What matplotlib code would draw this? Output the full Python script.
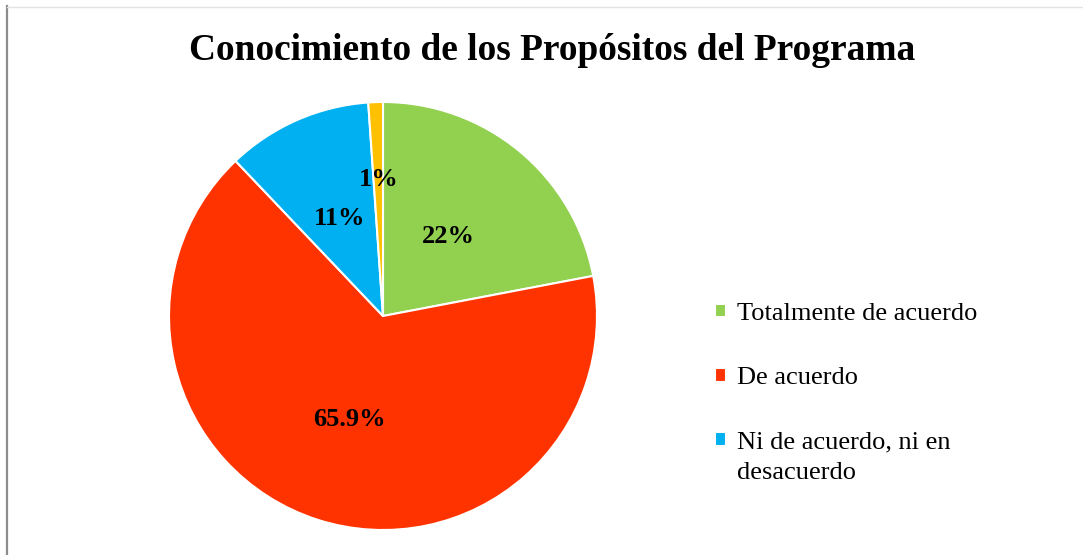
import numpy as np
import matplotlib.pyplot as plt
from matplotlib.lines import Line2D

# data
categories = ['Totalmente de acuerdo', 'De acuerdo', 'Ni de acuerdo, ni en', 'En desacuerdo']
wrap_line = 'desacuerdo'   # second line of the third legend entry
values = [22, 65.9, 11, 1.1]
pct_labels = ['22%', '65.9%', '11%', '1%']
colors = ['#92D050', '#FF3300', '#00B0F0', '#FFC000']
label_dist = [0.48, 0.51, 0.50, 0.64]

plt.rcParams['font.family'] = ['Liberation Serif', 'DejaVu Serif']

W, H = 1083, 555
fig = plt.figure(figsize=(W / 100, H / 100), dpi=100)

# pie centre (383, 316) px, radius 214 px
cx, cy, r = 383, 316, 214
ax = fig.add_axes([(cx - r) / W, (H - cy - r) / H, 2 * r / W, 2 * r / H])
wedges, _ = ax.pie(values, colors=colors, startangle=90, counterclock=False,
                   radius=1, wedgeprops=dict(edgecolor='white', linewidth=1.5))
ax.set_xlim(-1, 1)
ax.set_ylim(-1, 1)
ax.set_aspect('equal')
ax.axis('off')

for w, lab, d in zip(wedges, pct_labels, label_dist):
    ang = np.deg2rad((w.theta1 + w.theta2) / 2)
    ax.text(d * np.cos(ang), d * np.sin(ang), lab, ha='center', va='center',
            fontsize=19, fontweight='bold')

fig.text(552 / W, 1 - 51 / H, 'Conocimiento de los Propósitos del Programa',
         ha='center', va='center', fontsize=26.9, fontweight='bold')

leg = fig.legend(wedges[:3], categories[:3], loc='upper left',
                 bbox_to_anchor=(715 / W, 1 - 303 / H), frameon=False,
                 fontsize=19, handlelength=0.42, handleheight=0.42,
                 handletextpad=0.4, labelspacing=1.6, borderpad=0, borderaxespad=0)

# put the wrapped second line under the third entry
fig.canvas.draw()
t3 = leg.get_texts()[2]
bb = t3.get_window_extent()
fig.text(bb.x0 / W, (bb.y0 - 31) / H, wrap_line, fontsize=19, ha='left', va='bottom')

# frame lines of the original chart area
fig.add_artist(Line2D([7 / W, 7 / W], [0, 1 - 6 / H], color='#8c8c8c', lw=1.6,
                      transform=fig.transFigure))
fig.add_artist(Line2D([7 / W, 1], [1 - 7 / H, 1 - 7 / H], color='#e3e3e3', lw=1,
                      transform=fig.transFigure))

fig.savefig('out.png', dpi=100, facecolor='white')
